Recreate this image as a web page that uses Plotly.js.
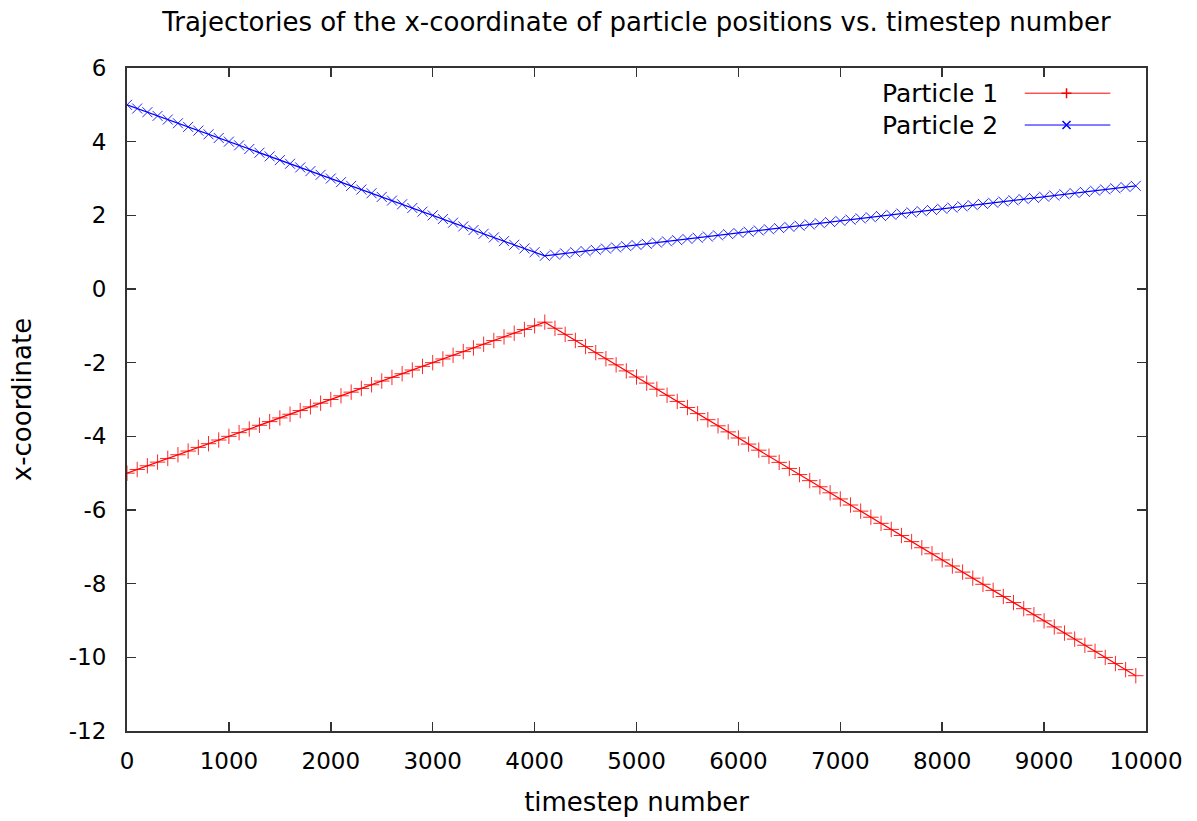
<!DOCTYPE html>
<html>
<head>
<meta charset="utf-8">
<script src="https://cdn.plot.ly/plotly-3.0.1.min.js"></script>
<style>html,body{margin:0;padding:0;background:#fff;}#chart{width:1197px;height:821px;}</style>
</head>
<body>
<div id="chart"></div>
<script>
const timesteps = [0,100,200,300,400,500,600,700,800,900,1000,1100,1200,1300,1400,1500,1600,1700,1800,1900,
  2000,2100,2200,2300,2400,2500,2600,2700,2800,2900,3000,3100,3200,3300,3400,3500,3600,3700,3800,3900,
  4000,4100,4200,4300,4400,4500,4600,4700,4800,4900,5000,5100,5200,5300,5400,5500,5600,5700,5800,5900,
  6000,6100,6200,6300,6400,6500,6600,6700,6800,6900,7000,7100,7200,7300,7400,7500,7600,7700,7800,7900,
  8000,8100,8200,8300,8400,8500,8600,8700,8800,8900,9000,9100,9200,9300,9400,9500,9600,9700,9800,9900];

const particle1 = [-5.0,-4.9,-4.8,-4.7,-4.6,-4.5,-4.4,-4.3,-4.2,-4.1,-4.0,-3.9,-3.8,-3.7,-3.6,-3.5,-3.4,-3.3,-3.2,-3.1,
  -3.0,-2.9,-2.8,-2.7,-2.6,-2.5,-2.4,-2.3,-2.2,-2.1,-2.0,-1.9,-1.8,-1.7,-1.6,-1.5,-1.4,-1.3,-1.2,-1.1,
  -1.0,-0.9,-1.066,-1.231,-1.397,-1.562,-1.728,-1.893,-2.059,-2.224,-2.390,-2.555,-2.721,-2.886,-3.052,-3.217,-3.383,-3.548,-3.714,-3.879,
  -4.045,-4.210,-4.376,-4.541,-4.707,-4.872,-5.038,-5.203,-5.369,-5.534,-5.700,-5.865,-6.031,-6.196,-6.362,-6.527,-6.693,-6.858,-7.024,-7.189,
  -7.355,-7.520,-7.686,-7.851,-8.017,-8.182,-8.348,-8.513,-8.679,-8.844,-9.010,-9.175,-9.341,-9.506,-9.672,-9.837,-10.003,-10.168,-10.334,-10.499];

const particle2 = [5.0,4.9,4.8,4.7,4.6,4.5,4.4,4.3,4.2,4.1,4.0,3.9,3.8,3.7,3.6,3.5,3.4,3.3,3.2,3.1,
  3.0,2.9,2.8,2.7,2.6,2.5,2.4,2.3,2.2,2.1,2.0,1.9,1.8,1.7,1.6,1.5,1.4,1.3,1.2,1.1,
  1.0,0.9,0.933,0.966,0.998,1.031,1.064,1.097,1.129,1.162,1.195,1.228,1.260,1.293,1.326,1.359,1.391,1.424,1.457,1.490,
  1.522,1.555,1.588,1.621,1.653,1.686,1.719,1.752,1.785,1.817,1.850,1.883,1.916,1.948,1.981,2.014,2.047,2.079,2.112,2.145,
  2.178,2.210,2.243,2.276,2.309,2.341,2.374,2.407,2.440,2.472,2.505,2.538,2.571,2.603,2.636,2.669,2.702,2.734,2.767,2.800];

const seriesNames = ["Particle 1", "Particle 2"];
const xTicks = [0,1000,2000,3000,4000,5000,6000,7000,8000,9000,10000];
const yTicks = [-12,-10,-8,-6,-4,-2,0,2,4,6];

const RED = '#ff0000', BLUE = '#0000ff', FRAME = '#333333';
const FONT = 'DejaVu Sans, Liberation Sans, sans-serif';

const traces = [
  {x: timesteps, y: particle1, name: seriesNames[0], type: 'scatter', mode: 'lines+markers',
   line: {color: RED, width: 1.2},
   marker: {symbol: 'cross-thin', size: 11, line: {color: 'rgba(255,0,0,0.85)', width: 1}}},
  {x: timesteps, y: particle2, name: seriesNames[1], type: 'scatter', mode: 'lines+markers',
   line: {color: BLUE, width: 1.2},
   marker: {symbol: 'x-thin', size: 10, line: {color: 'rgba(0,0,255,0.85)', width: 1}}}
];

// Manual gnuplot-style legend (text then sample)
const legendRows = [{y: 0.962, color: RED, sym: 'plus'}, {y: 0.914, color: BLUE, sym: 'x'}];
const annotations = [];
const shapes = [];
legendRows.forEach((r, i) => {
  annotations.push({xref: 'paper', yref: 'paper', x: 0.857, y: r.y, xanchor: 'right', yanchor: 'middle',
    text: seriesNames[i], showarrow: false, font: {family: FONT, size: 25, color: '#000'}});
  shapes.push({type: 'line', xref: 'paper', yref: 'paper', x0: 0.881, x1: 0.965, y0: r.y, y1: r.y,
    line: {color: r.color, width: 1}});
  const path = r.sym === 'plus' ? 'M-5,0L5,0M0,-5L0,5' : 'M-4,-4L4,4M-4,4L4,-4';
  shapes.push({type: 'path', xref: 'paper', yref: 'paper', xsizemode: 'pixel', ysizemode: 'pixel',
    xanchor: 0.922, yanchor: r.y, path: path, line: {color: r.color, width: 1.5}});
});

const axisCommon = {
  showgrid: false, zeroline: false, showline: true, linecolor: FRAME, linewidth: 2,
  mirror: 'ticks', ticks: 'inside', ticklen: 9, tickwidth: 1.5, tickcolor: FRAME,
  tickfont: {family: FONT, size: 23, color: '#000'}
};

const layout = {
  width: 1197, height: 821,
  margin: {l: 127, r: 51, t: 68, b: 90},
  paper_bgcolor: '#fff', plot_bgcolor: '#fff',
  showlegend: false,
  title: {text: 'Trajectories of the x-coordinate of particle positions vs. timestep number',
          font: {family: FONT, size: 26, color: '#000'}, xref: 'paper', x: 0.5, xanchor: 'center', y: 0.973, yanchor: 'middle'},
  xaxis: Object.assign({}, axisCommon, {range: [0, 10000], tickvals: xTicks, ticktext: xTicks.map(String),
    ticklabelstandoff: 8,
    title: {text: 'timestep number', font: {family: FONT, size: 26, color: '#000'}, standoff: 20}}),
  yaxis: Object.assign({}, axisCommon, {range: [-12, 6], tickvals: yTicks, ticktext: yTicks.map(String),
    ticklabelstandoff: 14,
    title: {text: 'x-coordinate', font: {family: FONT, size: 26, color: '#000'}, standoff: 30}}),
  annotations: annotations,
  shapes: shapes
};

Plotly.newPlot('chart', traces, layout, {displayModeBar: false, staticPlot: true});
</script>
</body>
</html>
